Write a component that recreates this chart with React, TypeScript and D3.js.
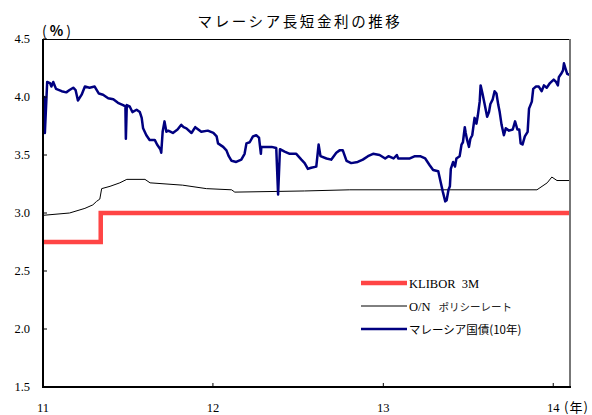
import React from "react";
import * as d3 from "d3";

// Malaysian long and short rates, Jan 2011 – Feb 2014 (%)
const klibor3mDates = ["2011-01-01", "2011-05-05", "2014-02-06"];
const klibor3mValues = [2.75, 3.0, 3.0];

const overnightDates = [
  "2011-01-01", "2011-02-27", "2011-04-01", "2011-04-18", "2011-04-26", "2011-05-03",
  "2011-05-07", "2011-05-25", "2011-06-15", "2011-06-30", "2011-08-08", "2011-08-19",
  "2011-10-28", "2011-12-18", "2012-02-10", "2012-02-17", "2012-07-16", "2012-10-21",
  "2013-11-27", "2013-12-19", "2013-12-29", "2014-01-09", "2014-02-06",
];
const overnightValues = [
  2.98, 3.0, 3.04, 3.07, 3.1, 3.12,
  3.21, 3.23, 3.26, 3.29, 3.29, 3.26,
  3.24, 3.21, 3.2, 3.18, 3.19, 3.2,
  3.2, 3.26, 3.31, 3.28, 3.28,
];

const mgs10yDates = [
  "2011-01-01", "2011-01-03", "2011-01-05", "2011-01-10", "2011-01-16", "2011-01-19",
  "2011-01-23", "2011-01-29", "2011-02-10", "2011-02-20", "2011-02-27", "2011-03-07",
  "2011-03-12", "2011-03-17", "2011-03-25", "2011-04-01", "2011-04-11", "2011-04-22",
  "2011-05-01", "2011-05-10", "2011-05-21", "2011-06-01", "2011-06-11", "2011-06-22",
  "2011-06-27", "2011-06-28", "2011-06-30", "2011-07-06", "2011-07-12", "2011-07-21",
  "2011-07-28", "2011-08-01", "2011-08-04", "2011-08-11", "2011-08-18", "2011-08-29",
  "2011-09-03", "2011-09-10", "2011-09-12", "2011-09-15", "2011-09-19", "2011-09-23",
  "2011-09-27", "2011-10-07", "2011-10-17", "2011-10-25", "2011-10-30", "2011-11-05",
  "2011-11-16", "2011-11-24", "2011-12-07", "2011-12-21",
  "2012-01-02", "2012-01-09", "2012-01-12", "2012-01-23", "2012-01-30", "2012-02-04",
  "2012-02-10", "2012-02-20", "2012-03-02", "2012-03-09", "2012-03-13", "2012-03-20",
  "2012-03-27", "2012-04-03", "2012-04-09", "2012-04-13", "2012-04-14", "2012-04-21",
  "2012-05-06", "2012-05-16", "2012-05-20", "2012-05-24", "2012-06-03", "2012-06-14",
  "2012-06-28", "2012-07-09", "2012-07-16", "2012-07-23", "2012-07-30", "2012-08-10",
  "2012-08-15", "2012-08-19", "2012-09-01", "2012-09-11", "2012-09-22", "2012-09-29",
  "2012-10-06", "2012-10-14", "2012-10-24", "2012-11-07", "2012-11-18", "2012-11-29",
  "2012-12-10", "2012-12-24",
  "2013-01-05", "2013-01-12", "2013-01-23", "2013-01-30", "2013-02-02", "2013-02-13",
  "2013-02-27", "2013-03-10", "2013-03-21", "2013-04-01", "2013-04-11", "2013-04-18",
  "2013-04-29", "2013-05-04", "2013-05-09", "2013-05-14", "2013-05-17", "2013-05-21",
  "2013-05-24", "2013-05-26", "2013-05-31", "2013-06-04", "2013-06-07", "2013-06-14",
  "2013-06-18", "2013-06-21", "2013-06-25", "2013-06-27", "2013-06-30", "2013-07-04",
  "2013-07-07", "2013-07-11", "2013-07-16", "2013-07-20", "2013-07-23", "2013-07-27",
  "2013-07-29", "2013-08-02", "2013-08-07", "2013-08-12", "2013-08-16", "2013-08-19",
  "2013-08-24", "2013-08-28", "2013-09-01", "2013-09-05", "2013-09-08", "2013-09-12",
  "2013-09-17", "2013-09-21", "2013-09-28", "2013-10-06", "2013-10-11", "2013-10-16",
  "2013-10-20", "2013-10-23", "2013-10-27", "2013-11-01", "2013-11-07", "2013-11-10",
  "2013-11-16", "2013-11-19", "2013-11-25", "2013-12-01", "2013-12-07", "2013-12-12",
  "2013-12-18", "2013-12-25",
  "2014-01-02", "2014-01-07", "2014-01-11", "2014-01-13", "2014-01-18", "2014-01-22",
  "2014-01-24", "2014-01-27", "2014-01-31", "2014-02-05",
];
const mgs10yValues = [
  3.98, 4.0, 3.69, 4.13, 4.12, 4.09,
  4.13, 4.07, 4.05, 4.04, 4.06, 4.08,
  4.06, 3.97, 4.02, 4.09, 4.08, 4.09,
  4.03, 4.02, 3.99, 3.98, 3.95, 3.93,
  3.92, 3.64, 3.93, 3.92, 3.87, 3.89,
  3.87, 3.82, 3.73, 3.67, 3.63, 3.63,
  3.59, 3.55, 3.52, 3.7, 3.79, 3.7,
  3.71, 3.69, 3.72, 3.76, 3.74, 3.73,
  3.69, 3.74, 3.7, 3.71,
  3.69, 3.66, 3.6, 3.57, 3.54, 3.49,
  3.45, 3.44, 3.46, 3.51, 3.6, 3.61,
  3.66, 3.67, 3.65, 3.51, 3.57, 3.57,
  3.57, 3.56, 3.16, 3.55, 3.53, 3.51,
  3.51, 3.46, 3.43, 3.38, 3.39, 3.4,
  3.59, 3.49, 3.47, 3.46, 3.52, 3.54,
  3.54, 3.45, 3.43, 3.44, 3.46, 3.49,
  3.51, 3.5,
  3.47, 3.49, 3.47, 3.5, 3.47, 3.47,
  3.47, 3.49, 3.49, 3.47, 3.41, 3.37,
  3.36, 3.27, 3.18, 3.1, 3.11, 3.2,
  3.23, 3.38, 3.44, 3.4, 3.47, 3.49,
  3.59, 3.61, 3.74, 3.69, 3.63, 3.57,
  3.64, 3.67, 3.82, 3.77, 3.84, 3.96,
  4.1, 4.03, 3.93, 3.83, 3.87, 3.94,
  3.98, 4.05, 4.03, 3.93, 3.87, 3.76,
  3.67, 3.73, 3.71, 3.72, 3.79, 3.72,
  3.72, 3.6, 3.59, 3.66, 3.7, 3.9,
  3.96, 4.07, 4.09, 4.09, 4.05, 4.1,
  4.08, 4.12,
  4.15, 4.13, 4.1, 4.17, 4.2, 4.23,
  4.29, 4.25, 4.2, 4.19,
];

const yTicks = [1.5, 2.0, 2.5, 3.0, 3.5, 4.0, 4.5];
const xTickDates = ["2011-01-01", "2012-01-01", "2013-01-01", "2014-01-01"];
const xTickLabels = ["11", "12", "13", "14"];

const legendLabels = ["KLIBOR\u00a0\u00a03M", "O/N", "マレーシア国債(10年)"];

const parse = d3.timeParse("%Y-%m-%d");

type Pt = { date: Date; value: number };
const zip = (ds: string[], vs: number[]): Pt[] =>
  ds.map((d, i) => ({ date: parse(d) as Date, value: vs[i] }));

const W = 592;
const H = 415;
const left = 43;
const right = 570;
const top = 39;
const bottom = 387;

const serif = "'Liberation Serif', 'DejaVu Serif', serif";
const cjk = "'Noto Sans CJK JP', 'Noto Sans', sans-serif";

export default function App() {
  const x = d3
    .scaleTime()
    .domain([parse("2011-01-01") as Date, parse("2014-02-06") as Date])
    .range([left, right]);
  const y = d3.scaleLinear().domain([1.5, 4.5]).range([bottom, top]);

  const line = d3
    .line<Pt>()
    .x((d) => x(d.date))
    .y((d) => y(d.value));
  const stepLine = d3
    .line<Pt>()
    .x((d) => x(d.date))
    .y((d) => y(d.value))
    .curve(d3.curveStepAfter);

  const red = zip(klibor3mDates, klibor3mValues);
  const black = zip(overnightDates, overnightValues);
  const blue = zip(mgs10yDates, mgs10yValues);

  const redColor = "#ff4545";
  const navy = "#000080";

  const legendX0 = 361;
  const legendX1 = 407;
  const legendY = [283, 306, 329];

  return (
    <svg
      width={W}
      height={H}
      style={{ position: "absolute", left: 0, top: 0, background: "#fff" }}
    >
      <rect x={0} y={0} width={W} height={H} fill="#fff" />
      <text
        x={300}
        y={27}
        textAnchor="middle"
        fontFamily={cjk}
        fontSize={14.5}
        letterSpacing={2.6}
        fill="#000"
      >
        マレーシア長短金利の推移
      </text>
      <text x={42} y={36} fontFamily={cjk} fontSize={14} letterSpacing={3} fill="#000">
        (<tspan fontWeight="bold">%</tspan>)
      </text>

      {/* series */}
      <path d={stepLine(red) ?? ""} fill="none" stroke={redColor} strokeWidth={4.5} />
      <path d={line(black) ?? ""} fill="none" stroke="#000" strokeWidth={1} />
      <path
        d={line(blue) ?? ""}
        fill="none"
        stroke={navy}
        strokeWidth={2.5}
        strokeLinejoin="round"
      />

      {/* frame */}
      <line x1={left} x2={right} y1={top + 0.5} y2={top + 0.5} stroke="#000" strokeWidth={1.2} />
      <line x1={right} x2={right} y1={top} y2={bottom} stroke="#777" strokeWidth={2} />
      <line x1={left} x2={left} y1={top} y2={bottom + 1} stroke="#000" strokeWidth={2} />
      <line x1={left - 1} x2={right + 1} y1={bottom} y2={bottom} stroke="#000" strokeWidth={2} />

      {/* y axis */}
      {yTicks.map((t) => (
        <g key={t}>
          <line x1={left} x2={left + 4} y1={y(t)} y2={y(t)} stroke="#000" strokeWidth={1} />
          <text
            x={30}
            y={y(t) + 4}
            textAnchor="end"
            fontFamily={serif}
            fontSize={12.5}
            fill="#000"
          >
            {t.toFixed(1)}
          </text>
        </g>
      ))}

      {/* x axis */}
      {xTickDates.map((d, i) => {
        const px = x(parse(d) as Date);
        return (
          <g key={d}>
            <line x1={px} x2={px} y1={bottom} y2={bottom - 4} stroke="#000" strokeWidth={1} />
            <text
              x={px}
              y={412}
              textAnchor="middle"
              fontFamily={serif}
              fontSize={12.5}
              fill="#000"
            >
              {xTickLabels[i]}
            </text>
          </g>
        );
      })}
      <text x={564} y={412} fontFamily={cjk} fontSize={13} letterSpacing={1} fill="#000">
        (年)
      </text>

      {/* legend */}
      <line x1={legendX0} x2={legendX1} y1={legendY[0]} y2={legendY[0]} stroke={redColor} strokeWidth={4.5} />
      <line x1={legendX0} x2={legendX1} y1={legendY[1]} y2={legendY[1]} stroke="#000" strokeWidth={1} />
      <line x1={legendX0} x2={legendX1} y1={legendY[2]} y2={legendY[2]} stroke={navy} strokeWidth={2.5} />
      <text x={409} y={legendY[0] + 4.5} fontFamily={serif} fontSize={12.5} fill="#000">
        {legendLabels[0]}
      </text>
      <text x={409} y={legendY[1] + 4.5} fontFamily={serif} fontSize={12.5} fill="#000">
        {legendLabels[1]}
        <tspan dx={8} fontFamily={cjk} fontSize={10.5} fill="#222">
          ポリシーレート
        </tspan>
      </text>
      <text x={409} y={legendY[2] + 4.5} fontFamily={cjk} fontSize={11.5} fill="#000">
        {legendLabels[2]}
      </text>
    </svg>
  );
}
